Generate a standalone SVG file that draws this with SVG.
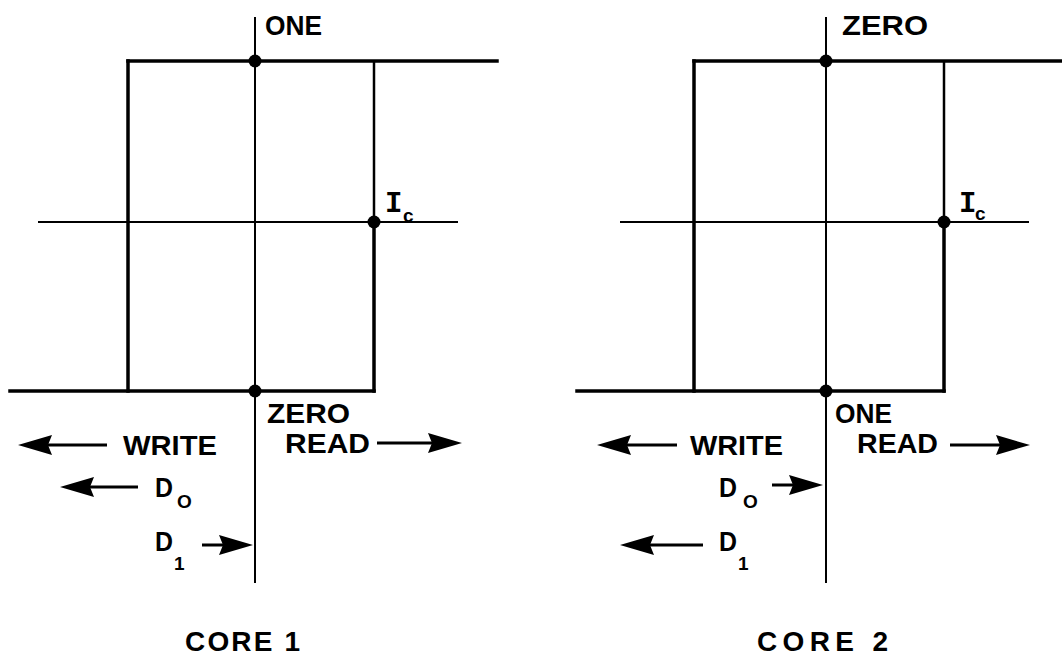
<svg xmlns="http://www.w3.org/2000/svg" width="1062" height="658" viewBox="0 0 1062 658">
<style>
.ax{stroke:#000;stroke-width:2;fill:none}
.lp{stroke:#000;stroke-width:3.5;fill:none;stroke-linecap:square}
.lpt{stroke:#000;stroke-width:2.5;fill:none}
.dot{fill:#000}
.t{font-family:"Liberation Sans",Arial,sans-serif;font-weight:bold;font-size:28px;fill:#000}
.sub{font-family:"Liberation Sans",Arial,sans-serif;font-weight:bold;font-size:19px;fill:#000}
.ic{font-family:"Liberation Mono","Courier New",monospace;font-weight:bold;font-size:29px;fill:#000}
.ar{stroke:#000;stroke-width:3;fill:none}
.hd{fill:#000}
</style>
<defs>
<path id="head" class="hd" d="M0,0 L-34,-10 L-30,0 L-34,10 Z"/>
</defs>
<rect width="1062" height="658" fill="#fff"/>

<g id="core1">
<line class="ax" x1="255" y1="17" x2="255" y2="583"/>
<line class="ax" x1="38" y1="222" x2="458" y2="222"/>
<line class="lp" x1="128" y1="61" x2="497" y2="61"/>
<line class="lp" x1="128" y1="61" x2="128" y2="391"/>
<line class="lp" x1="10" y1="391" x2="374" y2="391"/>
<line class="lpt" x1="374" y1="61" x2="374" y2="222"/>
<line class="lp" x1="374" y1="222" x2="374" y2="391"/>
<circle class="dot" cx="255" cy="61" r="6.5"/>
<circle class="dot" cx="374" cy="222" r="6.5"/>
<circle class="dot" cx="255" cy="391" r="6.5"/>
<text class="t" x="265" y="35" textLength="57" lengthAdjust="spacingAndGlyphs">ONE</text>
<text class="ic" x="385" y="212">I</text>
<text class="sub" x="403" y="222">c</text>
<text class="t" x="267" y="423" textLength="83" lengthAdjust="spacingAndGlyphs">ZERO</text>
<text class="t" x="285" y="453" textLength="85" lengthAdjust="spacingAndGlyphs">READ</text>
<text class="t" x="123" y="455" textLength="94" lengthAdjust="spacingAndGlyphs">WRITE</text>
<text class="t" x="155" y="497" textLength="18" lengthAdjust="spacingAndGlyphs">D</text>
<text class="sub" x="177" y="508">O</text>
<text class="t" x="155" y="551" textLength="18" lengthAdjust="spacingAndGlyphs">D</text>
<text class="sub" x="174" y="570" font-size="22px">1</text>
<text class="t" x="185" y="651" textLength="115" lengthAdjust="spacing">CORE 1</text>
</g>

<g id="core2">
<line class="ax" x1="826" y1="17" x2="826" y2="583"/>
<line class="ax" x1="620" y1="222" x2="1029" y2="222"/>
<line class="lp" x1="694" y1="61" x2="1062" y2="61"/>
<line class="lp" x1="694" y1="61" x2="694" y2="391"/>
<line class="lp" x1="577" y1="391" x2="944" y2="391"/>
<line class="lpt" x1="944" y1="61" x2="944" y2="222"/>
<line class="lp" x1="944" y1="222" x2="944" y2="391"/>
<circle class="dot" cx="826" cy="61" r="6.5"/>
<circle class="dot" cx="944" cy="222" r="6.5"/>
<circle class="dot" cx="826" cy="391" r="6.5"/>
<text class="t" x="842" y="35" textLength="86" lengthAdjust="spacingAndGlyphs">ZERO</text>
<text class="ic" x="959" y="212">I</text>
<text class="sub" x="975" y="220">c</text>
<text class="t" x="835" y="423" textLength="57" lengthAdjust="spacingAndGlyphs">ONE</text>
<text class="t" x="857" y="453" textLength="81" lengthAdjust="spacingAndGlyphs">READ</text>
<text class="t" x="690" y="455" textLength="93" lengthAdjust="spacingAndGlyphs">WRITE</text>
<text class="t" x="719" y="497" textLength="18" lengthAdjust="spacingAndGlyphs">D</text>
<text class="sub" x="743" y="508">O</text>
<text class="t" x="719" y="551" textLength="18" lengthAdjust="spacingAndGlyphs">D</text>
<text class="sub" x="738" y="570" font-size="22px">1</text>
<text class="t" x="757" y="651" textLength="131" lengthAdjust="spacing">CORE 2</text>
</g>

<g id="arrows">
<line class="ar" x1="107" y1="445" x2="46" y2="445"/>
<use href="#head" transform="translate(18,445) scale(-1,1)"/>
<line class="ar" x1="377" y1="443" x2="434" y2="443"/>
<use href="#head" transform="translate(462,443)"/>
<line class="ar" x1="138" y1="487" x2="88" y2="487"/>
<use href="#head" transform="translate(60,487) scale(-1,1)"/>
<line class="ar" x1="202" y1="545" x2="225" y2="545"/>
<use href="#head" transform="translate(253,545)"/>
<line class="ar" x1="677" y1="445" x2="625" y2="445"/>
<use href="#head" transform="translate(597,445) scale(-1,1)"/>
<line class="ar" x1="950" y1="445" x2="1002" y2="445"/>
<use href="#head" transform="translate(1030,445)"/>
<line class="ar" x1="772" y1="485" x2="795" y2="485"/>
<use href="#head" transform="translate(823,485)"/>
<line class="ar" x1="703" y1="545" x2="648" y2="545"/>
<use href="#head" transform="translate(620,545) scale(-1,1)"/>
</g>
</svg>
